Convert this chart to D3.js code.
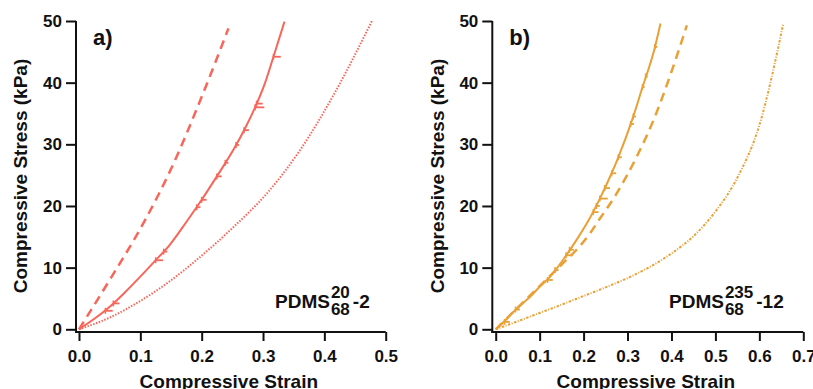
<!DOCTYPE html>
<html>
<head>
<meta charset="utf-8">
<script src="https://cdn.jsdelivr.net/npm/d3@7"></script>
<style>
body { margin: 0; background: #fff; }
text { font-family: "Liberation Sans", Arial, sans-serif; font-weight: bold; fill: #111; }
</style>
</head>
<body>
<script>
// panel a) PDMS 20/68 -2 : [strain, stress kPa]
var expA = [[0,0],[0.025,1.7],[0.0506,3.7],[0.075,6.0],[0.0995,8.5],[0.124,11.1],[0.148,13.7],
  [0.175,17.4],[0.2,21.0],[0.226,25.0],[0.2517,29.1],[0.2708,32.6],[0.2871,36.0],[0.302,39.6],
  [0.317,44.2],[0.335,49.9]];
var barsA = [[0.043,3.0,0.012],[0.056,4.2,0.01],[0.125,11.2,0.012],[0.138,12.6,0.006],[0.192,19.8,0.006],
  [0.2,21.0,0.008],[0.2247,24.8,0.008],[0.2385,27.0,0.005],[0.256,29.9,0.005],[0.269,32.3,0.008],
  [0.2871,36.0,0.015],[0.2895,36.6,0.01],[0.317,44.2,0.012]];
var dashA = [[0,0],[0.05,8.0],[0.1077,17.7],[0.15,26.0],[0.2,37.7],[0.2436,48.8]];
var dotA = [[0,0],[0.05,1.9],[0.1,4.6],[0.148,7.8],[0.197,11.7],[0.252,16.6],[0.306,22.0],
  [0.36,29.0],[0.415,38.0],[0.4775,50]];

// panel b) PDMS 235/68 -12
var expB = [[0,0],[0.02,1.3],[0.04,2.8],[0.063,4.3],[0.08,5.4],[0.1,6.9],[0.1235,8.5],[0.1615,12.1],
  [0.184,14.5],[0.2146,18.1],[0.237,21.2],[0.26,24.7],[0.279,27.9],[0.313,34.5],[0.332,38.8],
  [0.3625,45.8],[0.375,49.6]];
var barsB = [[0.02,1.2,0.012],[0.045,3.2,0.01],[0.118,8.0,0.012],[0.135,9.6,0.008],[0.16,12.0,0.015],
  [0.168,12.9,0.01],[0.222,19.0,0.012],[0.229,20.0,0.008],[0.237,21.2,0.018],[0.248,22.9,0.012],
  [0.264,25.3,0.01],[0.279,27.9,0.008],[0.307,33.3,0.008],[0.313,34.5,0.006],[0.334,39.3,0.005],
  [0.341,41.0,0.005],[0.362,45.8,0.006]];
var dashB = [[0,0],[0.05,3.5],[0.1,7.0],[0.15,10.5],[0.184,12.9],[0.215,15.6],[0.23,17.2],[0.275,22],
  [0.321,28],[0.359,33.9],[0.404,42.6],[0.435,49.3]];
var dotB = [[0,0],[0.05,1.3],[0.1,2.65],[0.15,4.0],[0.2,5.4],[0.25,6.8],[0.3,8.3],[0.35,10.1],
  [0.4,12.3],[0.45,15.1],[0.5,19.1],[0.55,24.6],[0.6,33.1],[0.6545,49.6]];

var stressTicks = [0,10,20,30,40,50];
var strainTicksA = [0,0.1,0.2,0.3,0.4,0.5];
var strainTicksB = [0,0.1,0.2,0.3,0.4,0.5,0.6,0.7];

var svg = d3.select("body").append("svg")
    .attr("width", 813)
    .attr("height", 389);

function drawPanel(p){
  var x = d3.scaleLinear().domain([0, p.xmax]).range([p.x0, p.x1]);
  var y = d3.scaleLinear().domain([0, 50]).range([329.3, 21]);
  var g = svg.append("g");

  // axes
  g.append("g")
      .attr("transform", "translate(" + p.ax + ",0)")
      .call(d3.axisLeft(y).tickValues(stressTicks).tickFormat(d3.format("d")).tickSize(10).tickPadding(4));
  g.append("g")
      .attr("transform", "translate(0,332)")
      .call(d3.axisBottom(x).tickValues(p.xticks).tickFormat(d3.format(".1f")).tickSize(9).tickPadding(9));
  g.selectAll(".domain").remove();
  g.selectAll(".tick line").attr("stroke", "#111").attr("stroke-width", 2);
  g.selectAll(".tick text").style("font-size", "17px").attr("fill", "#111");
  g.append("line").attr("x1", p.ax).attr("x2", p.ax).attr("y1", 21).attr("y2", 333)
    .attr("stroke", "#111").attr("stroke-width", 2);
  g.append("line").attr("x1", p.ax - 1).attr("x2", x(p.xmax)).attr("y1", 332).attr("y2", 332)
    .attr("stroke", "#111").attr("stroke-width", 2);

  g.append("text")
    .attr("x", (p.ax + x(p.xmax)) / 2 - 2)
    .attr("y", 388)
    .attr("text-anchor", "middle")
    .style("font-size", "19px")
    .text("Compressive Strain");
  g.append("text")
    .attr("transform", "translate(" + p.ytx + ",176) rotate(-90)")
    .attr("text-anchor", "middle")
    .style("font-size", "19px")
    .text("Compressive Stress (kPa)");

  g.append("text").attr("x", p.ax + 17).attr("y", 45)
    .style("font-size", "22px").text(p.tag);

  // curves
  var line = d3.line().x(function(d){ return x(d[0]); }).y(function(d){ return y(d[1]); })
      .curve(d3.curveMonotoneX);
  g.append("path").datum(p.dot).attr("d", line).attr("fill", "none")
    .attr("stroke", p.color).attr("stroke-width", 2).attr("stroke-dasharray", p.dotDash);
  g.append("path").datum(p.dash).attr("d", line).attr("fill", "none")
    .attr("stroke", p.color).attr("stroke-width", 2.5).attr("stroke-dasharray", "9,6");
  g.append("path").datum(p.exp).attr("d", line).attr("fill", "none")
    .attr("stroke", p.color).attr("stroke-width", 2);

  // horizontal error bars
  var bars = g.selectAll(".bar").data(p.bars).enter().append("g");
  bars.append("line")
    .attr("x1", function(d){ return x(d[0]); })
    .attr("x2", function(d){ return x(d[0] + d[2]); })
    .attr("y1", function(d){ return y(d[1]); })
    .attr("y2", function(d){ return y(d[1]); })
    .attr("stroke", p.color).attr("stroke-width", 1.8);
  bars.append("line")
    .attr("x1", function(d){ return x(d[0]); })
    .attr("x2", function(d){ return x(d[0]); })
    .attr("y1", function(d){ return y(d[1]) - 3; })
    .attr("y2", function(d){ return y(d[1]) + 3; })
    .attr("stroke", p.color).attr("stroke-width", 1.5);

  // sample label with stacked super/subscript, one text element
  var lab = g.append("text").attr("x", p.lx).attr("y", 308).style("font-size", "19px");
  var t1 = lab.append("tspan").text("PDMS");
  var w = t1.node().getComputedTextLength();
  var t2 = lab.append("tspan").attr("x", p.lx + w + 1).attr("y", 298).style("font-size", "17px").text(p.sup);
  var w2 = t2.node().getComputedTextLength();
  var t3 = lab.append("tspan").attr("x", p.lx + w + 1).attr("y", 315).style("font-size", "17px").text("68");
  w2 = Math.max(w2, t3.node().getComputedTextLength());
  lab.append("tspan").attr("x", p.lx + w + w2 + 4).attr("y", 308).text(p.suffix);
}

drawPanel({ x0: 79, x1: 385.7, xmax: 0.5, ax: 76, ytx: 27, xticks: strainTicksA, tag: "a)",
  color: "#f8665a", exp: expA, bars: barsA, dash: dashA, dot: dotA, dotDash: "1.5,1.5",
  lx: 275, sup: "20", suffix: "-2" });
drawPanel({ x0: 495.7, x1: 803.3, xmax: 0.7, ax: 492.3, ytx: 444, xticks: strainTicksB, tag: "b)",
  color: "#e9a035", exp: expB, bars: barsB, dash: dashB, dot: dotB, dotDash: "2.5,1.5,1,1.5",
  lx: 669, sup: "235", suffix: "-12" });
</script>
</body>
</html>
